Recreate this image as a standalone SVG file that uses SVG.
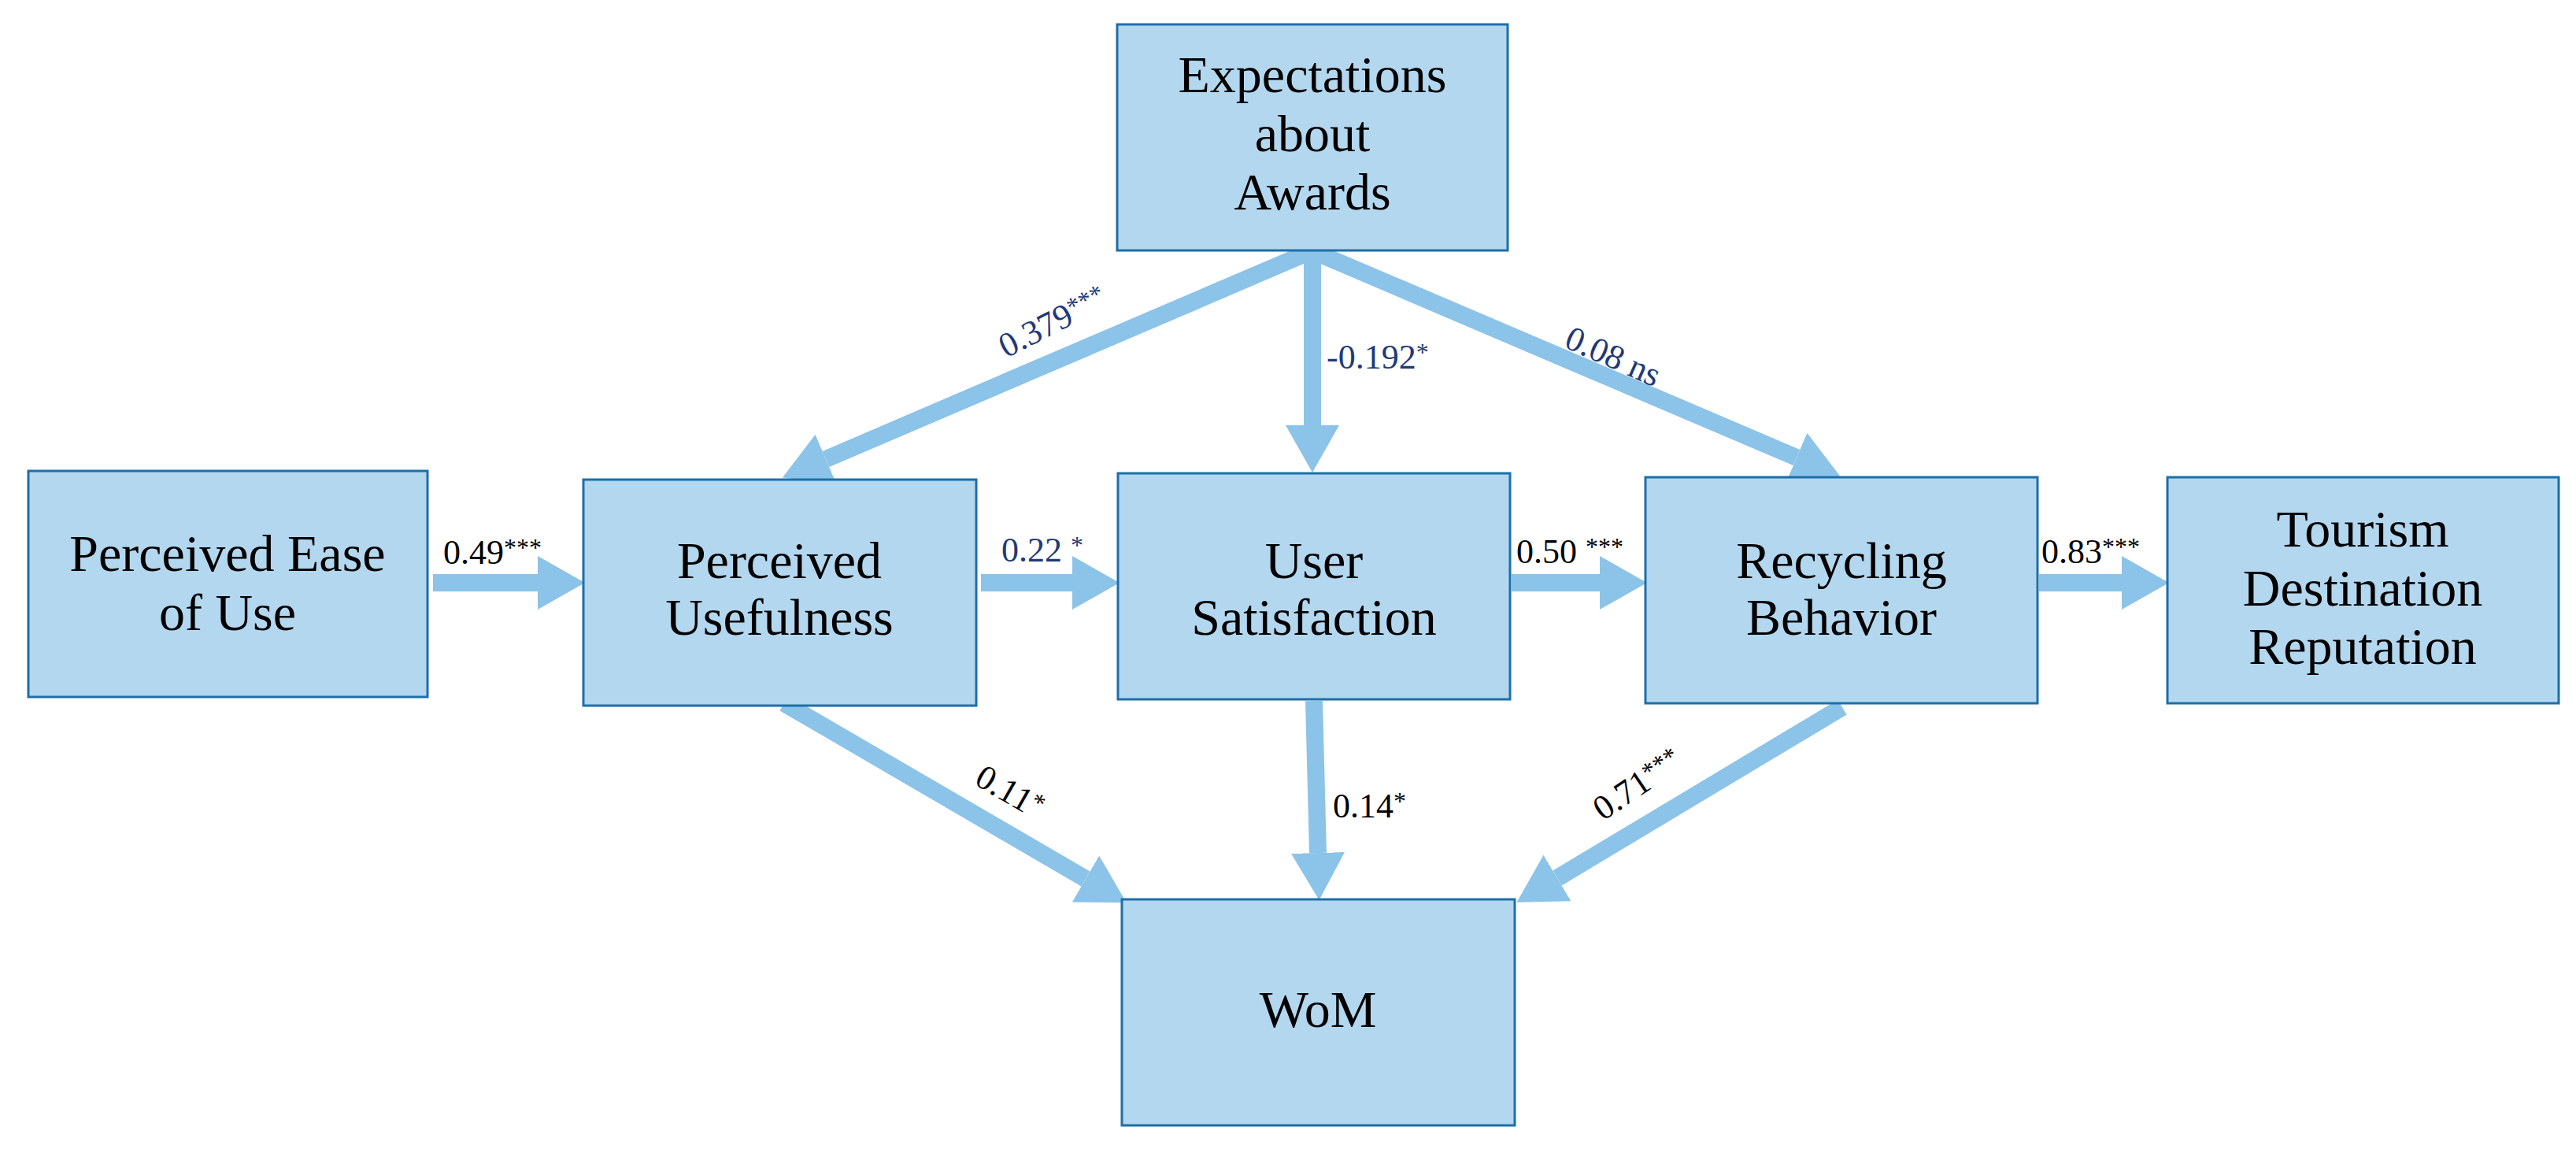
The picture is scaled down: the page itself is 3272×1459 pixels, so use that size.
<svg xmlns="http://www.w3.org/2000/svg" width="3272" height="1459" viewBox="0 0 3272 1459">
<defs>
<style>
.box{fill:#b3d7ef;stroke:#1d6fa8;stroke-width:3}
.nt{font-family:"Liberation Serif",serif;font-size:66px;fill:#000;text-anchor:middle}
.lb{font-family:"Liberation Serif",serif;font-size:44px;fill:#000}
.lbb{font-family:"Liberation Serif",serif;font-size:44px;fill:#1f3a78}
.sup{font-size:32px}
.ar{stroke:#8cc3e8;stroke-width:22;fill:none;marker-end:url(#ah)}
</style>
<marker id="ah" markerUnits="userSpaceOnUse" markerWidth="62" markerHeight="72" viewBox="0 -36 62 72" refX="0" refY="0" orient="auto">
<path d="M0,-34 L60,0 L0,34 z" fill="#8cc3e8"/>
</marker>
</defs>
<rect width="3272" height="1459" fill="#fff"/>
<g id="connectors">
<line class="ar" x1="550" y1="740" x2="683" y2="740"/>
<line class="ar" x1="1246" y1="740" x2="1362" y2="740"/>
<line class="ar" x1="1920" y1="740" x2="2032" y2="740"/>
<line class="ar" x1="2590" y1="740" x2="2695" y2="740"/>
<line class="ar" x1="1667" y1="318" x2="1667" y2="540"/>
<line class="ar" x1="1663" y1="320" x2="1049" y2="583"/>
<line class="ar" x1="1670" y1="320" x2="2282" y2="581"/>
<line class="ar" x1="996" y1="893" x2="1379" y2="1116"/>
<line class="ar" x1="1669" y1="890" x2="1674" y2="1083"/>
<line class="ar" x1="2340" y1="898" x2="1978" y2="1115"/>
<text class="lb" x="563" y="716">0.49<tspan class="sup" dy="-10">***</tspan></text>
<text class="lbb" x="1272" y="713">0.22 <tspan class="sup" dy="-10">*</tspan></text>
<text class="lb" x="1926" y="715">0.50 <tspan class="sup" dy="-10">***</tspan></text>
<text class="lb" x="2593" y="715">0.83<tspan class="sup" dy="-10">***</tspan></text>
<text class="lbb" x="1685" y="468">-0.192<tspan class="sup" dy="-10">*</tspan></text>
<text class="lbb" transform="translate(1278,455) rotate(-27)">0.379<tspan class="sup" dy="-10">***</tspan></text>
<text class="lbb" transform="translate(1985,440) rotate(24)">0.08 ns</text>
<text class="lb" transform="translate(1236,995) rotate(30)">0.11<tspan class="sup" dy="-10">*</tspan></text>
<text class="lb" x="1693" y="1038">0.14<tspan class="sup" dy="-10">*</tspan></text>
<text class="lb" transform="translate(2036,1043) rotate(-34)">0.71<tspan class="sup" dy="-10">***</tspan></text>
</g>
<g id="ea"><rect class="box" x="1419" y="31" width="496" height="287"/>
<text class="nt" x="1667" y="117">Expectations</text><text class="nt" x="1667" y="192">about</text><text class="nt" x="1667" y="266">Awards</text></g>
<g id="peu"><rect class="box" x="36" y="598" width="507" height="287"/>
<text class="nt" x="289" y="725">Perceived Ease</text><text class="nt" x="289" y="800">of Use</text></g>
<g id="pu"><rect class="box" x="741" y="609" width="499" height="287"/>
<text class="nt" x="990" y="734">Perceived</text><text class="nt" x="990" y="806">Usefulness</text></g>
<g id="us"><rect class="box" x="1420" y="601" width="498" height="287"/>
<text class="nt" x="1669" y="734">User</text><text class="nt" x="1669" y="806">Satisfaction</text></g>
<g id="rb"><rect class="box" x="2090" y="606" width="498" height="287"/>
<text class="nt" x="2339" y="734">Recycling</text><text class="nt" x="2339" y="806">Behavior</text></g>
<g id="tdr"><rect class="box" x="2753" y="606" width="497" height="287"/>
<text class="nt" x="3001" y="694">Tourism</text><text class="nt" x="3001" y="769">Destination</text><text class="nt" x="3001" y="843">Reputation</text></g>
<g id="wom"><rect class="box" x="1425" y="1142" width="499" height="287"/>
<text class="nt" x="1674" y="1304">WoM</text></g>
</svg>
